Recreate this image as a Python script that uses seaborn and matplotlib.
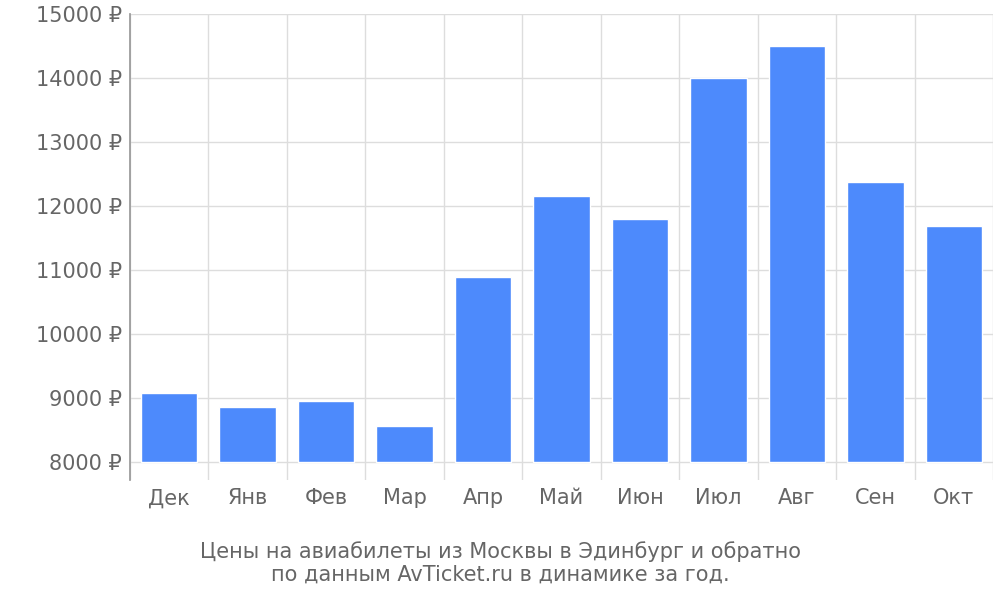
import matplotlib
matplotlib.use("Agg")
import matplotlib.pyplot as plt
import seaborn as sns
import pandas as pd
import numpy as np

months = ["Дек", "Янв", "Фев", "Мар", "Апр", "Май", "Июн", "Июл", "Авг", "Сен", "Окт"]
prices = [9080, 8860, 8950, 8560, 10890, 12160, 11800, 14000, 14500, 12370, 11690]
yticks = [8000, 9000, 10000, 11000, 12000, 13000, 14000, 15000]
base = 8000

sns.set_theme(style="white")
plt.rcParams['font.family'] = ['DejaVu Sans']
df = pd.DataFrame({"m": months, "p": [v - base for v in prices]})

fig = plt.figure(figsize=(10, 6), dpi=100)
ax = fig.add_axes([0.13, 0.2, 0.863, 0.777])
sns.barplot(data=df, x="m", y="p", color="#4d8afc", saturation=1, width=0.72, ax=ax, zorder=3)
ax.set_ylim(-280, 7000)
ax.set_xlim(-0.5, len(months) - 0.5)
ax.set_yticks([v - base for v in yticks])
ax.set_yticklabels([f"{v} ₽" for v in yticks], fontsize=15, color="#666666")
ax.tick_params(axis="x", labelsize=15, labelcolor="#666666", length=0, pad=6)
ax.tick_params(axis="y", length=0, pad=6)
ax.set_xticks(np.arange(-0.5, len(months), 1), minor=True)
ax.grid(axis="y", color="#dddddd", lw=1, zorder=0)
ax.grid(axis="x", which="minor", color="#dddddd", lw=1, zorder=0)
ax.set_xlabel("")
ax.set_ylabel("")
for s in ["top", "right", "bottom"]:
    ax.spines[s].set_visible(False)
ax.spines["left"].set_color("#999999")
fig.text(0.5, 0.062, "Цены на авиабилеты из Москвы в Эдинбург и обратно\nпо данным AvTicket.ru в динамике за год.",
         ha="center", va="center", fontsize=15, color="#666666", linespacing=1.15)
fig.savefig("out.png", dpi=100)
